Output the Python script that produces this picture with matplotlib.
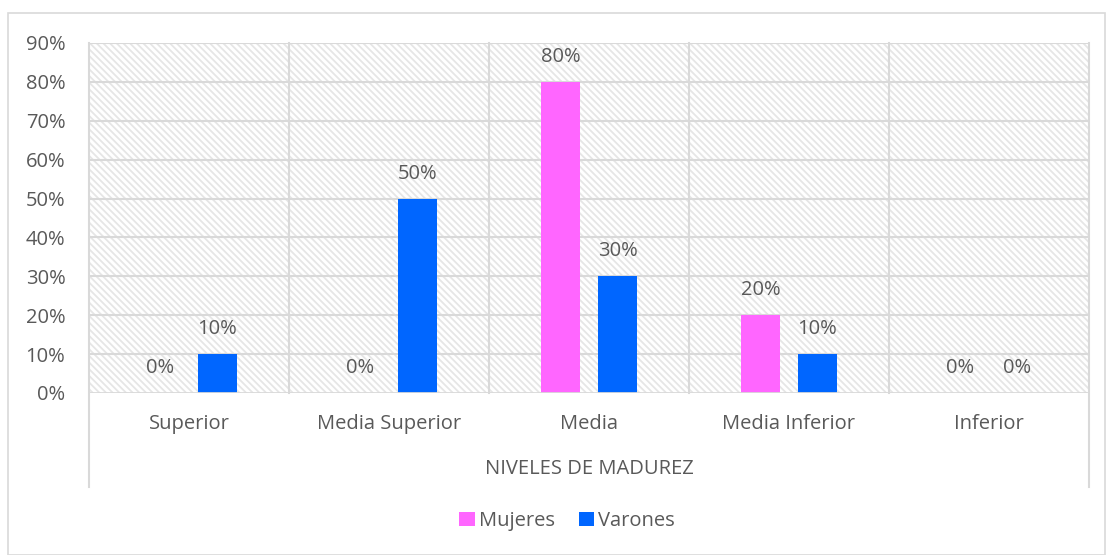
import numpy as np
import matplotlib.pyplot as plt
from matplotlib.patches import Rectangle

# Data
categories = ['Superior', 'Media Superior', 'Media', 'Media Inferior', 'Inferior']
mujeres = [0, 0, 80, 20, 0]
varones = [10, 50, 30, 10, 0]
series_names = ['Mujeres', 'Varones']
colors = ['#FF66FF', '#0066FF']

plt.rcParams['font.family'] = ['Open Sans', 'DejaVu Sans']
plt.rcParams['hatch.linewidth'] = 1.3
text_color = '#595959'
line_color = '#D9D9D9'

fig = plt.figure(figsize=(11.06, 5.55), dpi=100)
ax = fig.add_axes([89 / 1106, 1 - 393 / 555, 1000 / 1106, 350 / 555])

# outer chart border
fig.add_artist(Rectangle((8 / 1106, 0), 1097 / 1106, 1 - 13 / 555,
                         transform=fig.transFigure, fill=False,
                         edgecolor=line_color, lw=1.2))

# hatched plot area background
ax.add_patch(Rectangle((0, 0), 1, 1, transform=ax.transAxes, facecolor='white',
                       edgecolor='#E6E6E6', hatch='\\\\\\\\\\', lw=0, zorder=0))

x = np.arange(len(categories))
width = 0.195
offset = 0.1425
b1 = ax.bar(x - offset, mujeres, width, color=colors[0], label=series_names[0], zorder=3)
b2 = ax.bar(x + offset, varones, width, color=colors[1], label=series_names[1], zorder=3)

for bars, vals in ((b1, mujeres), (b2, varones)):
    for bar, v in zip(bars, vals):
        ax.annotate(f'{v}%', (bar.get_x() + bar.get_width() / 2, v),
                    xytext=(0, 18), textcoords='offset points',
                    ha='center', va='center', fontsize=14.5, color=text_color)

ax.set_xlim(-0.5, len(categories) - 0.5)
ax.set_ylim(0, 90)
ax.set_yticks(range(0, 91, 10))
ax.set_yticklabels([f'{t}%' for t in range(0, 91, 10)])
ax.set_xticks(x)
ax.set_xticklabels(categories)
ax.tick_params(length=0, labelsize=14.5, labelcolor=text_color)
ax.tick_params(axis='x', pad=15)
ax.tick_params(axis='y', pad=17)

for s in ax.spines.values():
    s.set_visible(False)
for t in range(10, 91, 10):
    ax.axhline(t, color=line_color, lw=1.5, zorder=1)
ax.axhline(0, color=line_color, lw=2, zorder=4)

# category dividers; the outer two extend below the axis
for xv in np.arange(-0.5, len(categories), 1.0):
    outer = xv < 0 or xv > len(categories) - 1
    ax.axvline(xv, ymin=-0.269 if outer else 0, ymax=1, color=line_color, lw=1.5,
               clip_on=False, zorder=1)

ax.set_xlabel('NIVELES DE MADUREZ', fontsize=14.5, color=text_color, labelpad=18)

fig.legend(handles=[b1, b2], loc='center', bbox_to_anchor=(567 / 1106, 1 - 521 / 555),
           ncol=2, frameon=False, fontsize=14.5, labelcolor=text_color,
           handlelength=0.75, handleheight=0.75, handletextpad=0.2, columnspacing=1.2)

fig.savefig('out.png', dpi=100)
